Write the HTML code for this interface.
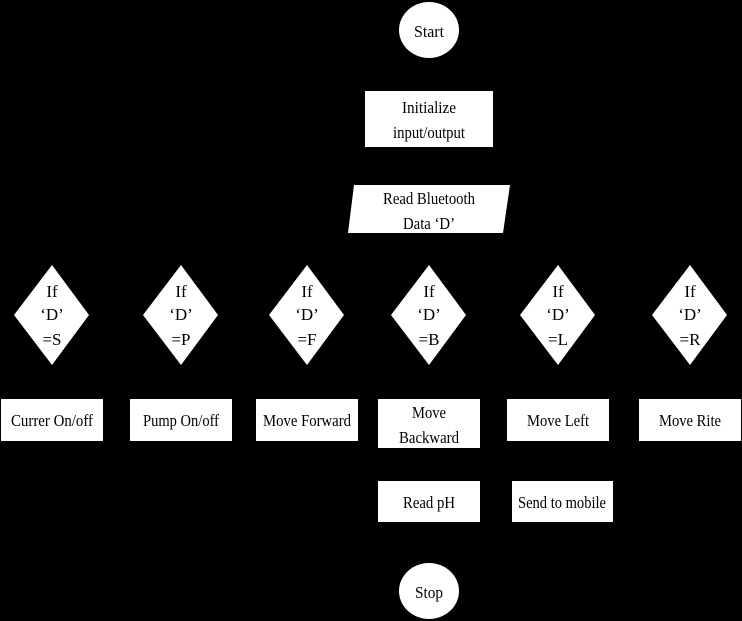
<!DOCTYPE html>
<html><head><meta charset="utf-8"><style>
html,body{margin:0;padding:0;background:#000;}
svg{display:block;}
text{font-family:"Liberation Serif",serif;font-size:17px;fill:#000;text-anchor:middle;}
</style></head><body>
<svg width="742" height="621" viewBox="0 0 742 621" xmlns="http://www.w3.org/2000/svg">
<rect width="742" height="621" fill="#000"/>
<g fill="#fff">
<ellipse cx="429" cy="30" rx="30" ry="28"/>
<rect x="365" y="91" width="128" height="56"/>
<polygon points="354,185 510,185 503,233 348,233"/>
<polygon points="52,265 89,315 52,365 14,315"/>
<polygon points="181,265 218,315 181,365 143,315"/>
<polygon points="307,265 344,315 307,365 269,315"/>
<polygon points="429,265 466,315 429,365 391,315"/>
<polygon points="558,265 595,315 558,365 520,315"/>
<polygon points="690,265 727,315 690,365 652,315"/>
<rect x="1" y="399" width="102" height="42"/>
<rect x="130" y="399" width="102" height="42"/>
<rect x="256" y="399" width="102" height="42"/>
<rect x="378" y="399" width="102" height="49"/>
<rect x="507" y="399" width="102" height="42"/>
<rect x="639" y="399" width="102" height="42"/>
<rect x="378" y="481" width="102" height="41"/>
<rect x="512" y="481" width="101" height="41"/>
<ellipse cx="429" cy="591" rx="30" ry="28"/>
</g>
<text x="429" y="37" textLength="30" lengthAdjust="spacingAndGlyphs">Start</text>
<text x="429" y="113" textLength="54" lengthAdjust="spacingAndGlyphs">Initialize</text>
<text x="429" y="138" textLength="72" lengthAdjust="spacingAndGlyphs">input/output</text>
<text x="429" y="204" textLength="92" lengthAdjust="spacingAndGlyphs">Read Bluetooth</text>
<text x="429" y="229" textLength="52" lengthAdjust="spacingAndGlyphs">Data ‘D’</text>
<g>
<text x="52" y="297">If</text><text x="52" y="320">‘D’</text><text x="52" y="345">=S</text>
<text x="181" y="297">If</text><text x="181" y="320">‘D’</text><text x="181" y="345">=P</text>
<text x="307" y="297">If</text><text x="307" y="320">‘D’</text><text x="307" y="345">=F</text>
<text x="429" y="297">If</text><text x="429" y="320">‘D’</text><text x="429" y="345">=B</text>
<text x="558" y="297">If</text><text x="558" y="320">‘D’</text><text x="558" y="345">=L</text>
<text x="690" y="297">If</text><text x="690" y="320">‘D’</text><text x="690" y="345">=R</text>
</g>
<text x="52" y="426" textLength="82" lengthAdjust="spacingAndGlyphs">Currer On/off</text>
<text x="181" y="426" textLength="76" lengthAdjust="spacingAndGlyphs">Pump On/off</text>
<text x="307" y="426" textLength="88" lengthAdjust="spacingAndGlyphs">Move Forward</text>
<text x="429" y="418" textLength="34" lengthAdjust="spacingAndGlyphs">Move</text>
<text x="429" y="443" textLength="60" lengthAdjust="spacingAndGlyphs">Backward</text>
<text x="558" y="426" textLength="62" lengthAdjust="spacingAndGlyphs">Move Left</text>
<text x="690" y="426" textLength="62" lengthAdjust="spacingAndGlyphs">Move Rite</text>
<text x="429" y="508" textLength="52" lengthAdjust="spacingAndGlyphs">Read pH</text>
<text x="562" y="508" textLength="88" lengthAdjust="spacingAndGlyphs">Send to mobile</text>
<text x="429" y="598" textLength="28" lengthAdjust="spacingAndGlyphs">Stop</text>
</svg>
</body></html>
